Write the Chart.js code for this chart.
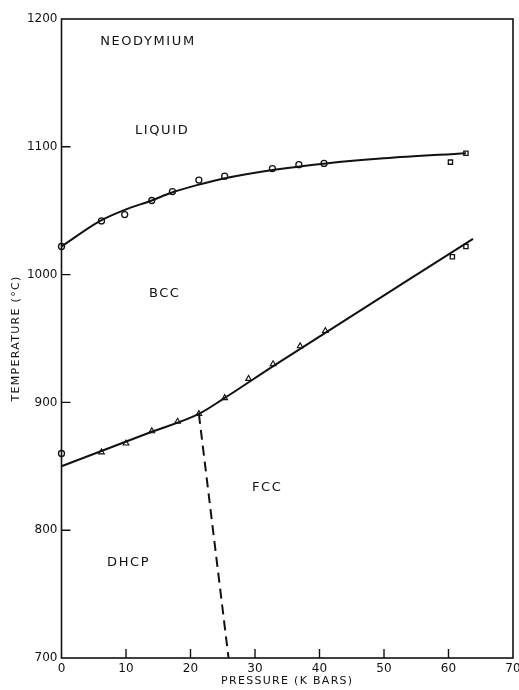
<!DOCTYPE html>
<html>
<head>
<meta charset="utf-8">
<script src="https://cdn.jsdelivr.net/npm/chart.js@4.4.0/dist/chart.umd.min.js"></script>
<style>
  html, body { margin: 0; padding: 0; background: #fff; }
  #wrap { width: 519px; height: 690px; }
</style>
</head>
<body>
<div id="wrap"><canvas id="chart" width="519" height="690"></canvas></div>
<script>
// --- Data ---
// pressure (kbar) / temperature (°C)
const meltCircleP = [0, 6.2, 9.8, 14.0, 17.2, 21.3, 25.3, 32.7, 36.8, 40.7];
const meltCircleT = [1022, 1042, 1047, 1058, 1065, 1074, 1077, 1083, 1086, 1087];

const meltSquareP = [60.3, 62.7];
const meltSquareT = [1088, 1095];

// fitted melting curve
const meltCurveP = [0, 6, 10, 14, 17, 21, 25, 33, 41, 50, 62.7];
const meltCurveT = [1022, 1042, 1051, 1058, 1064, 1070, 1075, 1082, 1087, 1091, 1095];

const transTriP = [6.2, 10.0, 14.0, 18.0, 21.3, 25.3, 29.0, 32.8, 37.0, 40.9];
const transTriT = [861, 868, 877.5, 885, 891, 903.5, 918.5, 930, 944, 956];
const transCircleP = [0];
const transCircleT = [860];

const transSquareP = [60.6, 62.7];
const transSquareT = [1014, 1022];

// BCC / DHCP-FCC boundary
const transCurveP = [0, 14, 21.3, 25.3, 33, 63.8];
const transCurveT = [850, 877, 891, 903.5, 929, 1028];

// DHCP / FCC boundary (dashed)
const dashP = [21.3, 25.9];
const dashT = [891, 700];

const xTicks = [0, 10, 20, 30, 40, 50, 60, 70];
const yTicks = [700, 800, 900, 1000, 1100, 1200];

// phase labels: text, pressure, temperature
const phaseText = ['NEODYMIUM', 'LIQUID', 'BCC', 'FCC', 'DHCP'];
const phaseP = [13.4, 15.6, 16.0, 31.9, 10.4];
const phaseT = [1182, 1113, 985.5, 833.7, 775];

const pts = (xs, ys) => xs.map((x, i) => ({ x: x, y: ys[i] }));

const INK = '#111';
const FONT = '"DejaVu Sans", "Liberation Sans", sans-serif';

// frame, inward ticks, axis titles and phase labels
const paperPlugin = {
  id: 'paper',
  afterDraw(chart) {
    const ctx = chart.ctx;
    const a = chart.chartArea;
    const xs = chart.scales.x;
    const ys = chart.scales.y;
    ctx.save();
    ctx.strokeStyle = INK;
    ctx.lineWidth = 1.6;
    ctx.strokeRect(a.left, a.top, a.right - a.left, a.bottom - a.top);

    ctx.lineWidth = 1.4;
    ctx.beginPath();
    xTicks.slice(1, -1).forEach(v => {
      const px = xs.getPixelForValue(v);
      ctx.moveTo(px, a.bottom);
      ctx.lineTo(px, a.bottom - 9);
    });
    yTicks.slice(1, -1).forEach(v => {
      const py = ys.getPixelForValue(v);
      ctx.moveTo(a.left, py);
      ctx.lineTo(a.left + 9, py);
    });
    ctx.stroke();

    ctx.fillStyle = INK;
    ctx.textAlign = 'center';
    ctx.textBaseline = 'middle';
    ctx.letterSpacing = '1.6px';
    ctx.font = '13px ' + FONT;
    phaseText.forEach((t, i) => {
      ctx.fillText(t, xs.getPixelForValue(phaseP[i]), ys.getPixelForValue(phaseT[i]));
    });

    ctx.font = '11px ' + FONT;
    ctx.letterSpacing = '1.3px';
    ctx.fillText('PRESSURE (K BARS)', (a.left + a.right) / 2, 681);
    ctx.translate(16, (a.top + a.bottom) / 2);
    ctx.rotate(-Math.PI / 2);
    ctx.fillText('TEMPERATURE (°C)', 0, 0);
    ctx.restore();
  }
};

new Chart(document.getElementById('chart'), {
  type: 'scatter',
  data: {
    datasets: [
      {
        data: pts(meltCurveP, meltCurveT),
        showLine: true, borderColor: INK, borderWidth: 2,
        pointRadius: 0, cubicInterpolationMode: 'monotone'
      },
      {
        data: pts(transCurveP, transCurveT),
        showLine: true, borderColor: INK, borderWidth: 2,
        pointRadius: 0, cubicInterpolationMode: 'monotone'
      },
      {
        data: pts(dashP, dashT),
        showLine: true, borderColor: INK, borderWidth: 2,
        borderDash: [10, 6], pointRadius: 0
      },
      {
        data: pts(meltCircleP, meltCircleT).concat(pts(transCircleP, transCircleT)),
        pointStyle: 'circle', pointRadius: 3, borderWidth: 1.3,
        borderColor: INK, backgroundColor: '#fff'
      },
      {
        data: pts(transTriP, transTriT),
        pointStyle: 'triangle', pointRadius: 3.3, borderWidth: 1.1,
        borderColor: INK, backgroundColor: '#fff'
      },
      {
        data: pts(meltSquareP, meltSquareT).concat(pts(transSquareP, transSquareT)),
        pointStyle: 'rect', pointRadius: 3, borderWidth: 1.3,
        borderColor: INK, backgroundColor: '#fff'
      }
    ]
  },
  options: {
    responsive: false,
    animation: false,
    clip: false,
    layout: { padding: { left: 0, right: 6, top: 19, bottom: 0 } },
    plugins: { legend: { display: false }, tooltip: { enabled: false } },
    scales: {
      x: {
        type: 'linear', min: 0, max: 70,
        afterFit: s => { s.height = 32; s.paddingLeft = 0; s.paddingRight = 0; },
        afterBuildTicks: s => { s.ticks = xTicks.map(v => ({ value: v })); },
        grid: { display: false, drawTicks: false },
        border: { display: false },
        ticks: {
          color: INK, font: { size: 12, family: FONT }, padding: 4, maxRotation: 0,
          callback: v => String(v)
        }
      },
      y: {
        type: 'linear', min: 700, max: 1200,
        afterFit: s => { s.width = 61.5; s.paddingTop = 0; s.paddingBottom = 0; },
        afterBuildTicks: s => { s.ticks = yTicks.map(v => ({ value: v })); },
        grid: { display: false, drawTicks: false },
        border: { display: false },
        ticks: {
          color: INK, font: { size: 12, family: FONT }, padding: 4,
          callback: v => String(v)
        }
      }
    }
  },
  plugins: [paperPlugin]
});
</script>
</body>
</html>
